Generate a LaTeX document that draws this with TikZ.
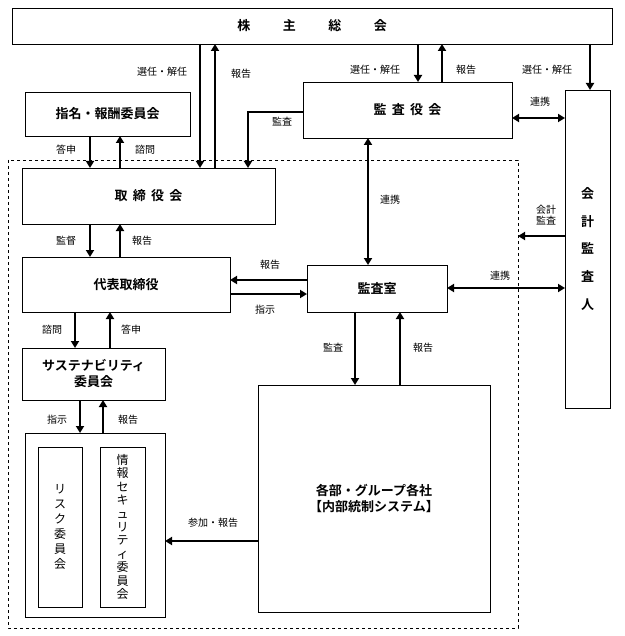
\documentclass[tikz,border=0pt]{standalone}
\usepackage{fontspec}
\setmainfont{Noto Sans CJK JP}[BoldFont={Noto Sans CJK JP Bold}]
\usetikzlibrary{arrows.meta}
\begin{document}
\begin{tikzpicture}[x=1pt, y=-1pt,
        box_style/.style={draw=black, thick, fill=white, inner sep=0pt, font=\fontsize{13}{16}\selectfont\bfseries},
        tate_style/.style={draw=black, thick, fill=white, inner sep=0pt, align=center, font=\fontsize{12}{15}\selectfont},
        lbl_style/.style={font=\fontsize{10}{11}\selectfont, inner sep=1pt},
        edge_style/.style={draw=black, line width=2.2pt, -{Triangle[length=7pt,width=8pt]}},
        both_style/.style={draw=black, line width=2.2pt, {Triangle[length=7pt,width=8pt]}-{Triangle[length=7pt,width=8pt]}}]

        \useasboundingbox (0,0) rectangle (624,636);

        \draw [dashed, thick] (8,160) rectangle (518,628);

        \node [box_style, minimum width=600, minimum height=36] (soukai) at (312,26) {株\hspace{2.5em}主\hspace{2.5em}総\hspace{2.5em}会};
        \node [box_style, minimum width=165, minimum height=44] (shimei) at (107.5,114) {指名・報酬委員会};
        \node [box_style, minimum width=209, minimum height=56] (kansayaku) at (407.5,110) {監\hspace{0.4em}査\hspace{0.4em}役\hspace{0.4em}会};
        \node [box_style, minimum width=45, minimum height=318, align=center] (kaikei) at (587.5,249) {会\\[0.9em]計\\[0.9em]監\\[0.9em]査\\[0.9em]人};
        \node [box_style, minimum width=253, minimum height=56] (torishimari) at (148.5,196) {取\hspace{0.4em}締\hspace{0.4em}役\hspace{0.4em}会};
        \node [box_style, minimum width=208, minimum height=55] (daihyo) at (126,284.5) {代表取締役};
        \node [box_style, minimum width=140, minimum height=47] (kansashitsu) at (377,288.5) {監査室};
        \node [box_style, minimum width=143, minimum height=52, align=center] (suste) at (93.5,374) {サステナビリティ\\委員会};
        \node [box_style, minimum width=140, minimum height=184] (iinkai) at (95,525) {};
        \node [tate_style, minimum width=44, minimum height=160] (risk) at (60,527) {リ\\ス\\ク\\委\\員\\会};
        \node [tate_style, minimum width=45, minimum height=160, font=\fontsize{12}{13.4}\selectfont] (joho) at (122.5,527) {情\\報\\セ\\キ\\ュ\\リ\\テ\\ィ\\委\\員\\会};
        \node [box_style, minimum width=232, minimum height=227, align=center] (kakubu) at (374,498.5) {各部・グループ各社\\【内部統制システム】};

        % 株主総会
        \draw [edge_style] (200,44) -- (200,168);
        \draw [edge_style] (215,168) -- (215,44);
        \node [lbl_style] (l1) at (162,72) {選任・解任};
        \node [lbl_style] (l2) at (241,74) {報告};
        \draw [edge_style] (418,44) -- (418,82);
        \draw [edge_style] (442,82) -- (442,44);
        \node [lbl_style] (l3) at (375,70) {選任・解任};
        \node [lbl_style] (l4) at (466,70) {報告};
        \draw [edge_style] (590,44) -- (590,90);
        \node [lbl_style] (l5) at (547,70) {選任・解任};

        % 監査役会
        \draw [edge_style] (303,112) -- (248,112) -- (248,168);
        \node [lbl_style] (l6) at (282,122) {監査};
        \draw [both_style] (512,118) -- (565,118);
        \node [lbl_style] (l7) at (540,102) {連携};
        \draw [both_style] (368,138) -- (368,265);
        \node [lbl_style] (l8) at (390,200) {連携};

        % 指名・報酬委員会
        \draw [edge_style] (90,136) -- (90,168);
        \draw [edge_style] (120,168) -- (120,136);
        \node [lbl_style] (l9) at (66,150) {答申};
        \node [lbl_style] (l10) at (145,150) {諮問};

        % 会計監査人
        \draw [edge_style] (565,236) -- (518,236);
        \node [lbl_style, align=center] (l11) at (546,215) {会計\\監査};
        \draw [both_style] (447,288) -- (565,288);
        \node [lbl_style] (l12) at (500,276) {連携};

        % 取締役会・代表取締役
        \draw [edge_style] (90,224) -- (90,257);
        \draw [edge_style] (120,257) -- (120,224);
        \node [lbl_style] (l13) at (66,241) {監督};
        \node [lbl_style] (l14) at (142,241) {報告};
        \draw [edge_style] (307,280) -- (230,280);
        \draw [edge_style] (230,294) -- (307,294);
        \node [lbl_style] (l15) at (270,265) {報告};
        \node [lbl_style] (l16) at (265,310) {指示};

        % サステナビリティ委員会
        \draw [edge_style] (75,312) -- (75,348);
        \draw [edge_style] (110,348) -- (110,312);
        \node [lbl_style] (l17) at (52,330) {諮問};
        \node [lbl_style] (l18) at (131,330) {答申};
        \draw [edge_style] (80,400) -- (80,433);
        \draw [edge_style] (103,433) -- (103,400);
        \node [lbl_style] (l19) at (57,420) {指示};
        \node [lbl_style] (l20) at (128,420) {報告};

        % 監査室・各部
        \draw [edge_style] (355,312) -- (355,385);
        \draw [edge_style] (400,385) -- (400,312);
        \node [lbl_style] (l21) at (333,348) {監査};
        \node [lbl_style] (l22) at (423,348) {報告};
        \draw [edge_style] (258,541) -- (165,541);
        \node [lbl_style] (l23) at (213,523) {参加・報告};
\end{tikzpicture}
\end{document}
